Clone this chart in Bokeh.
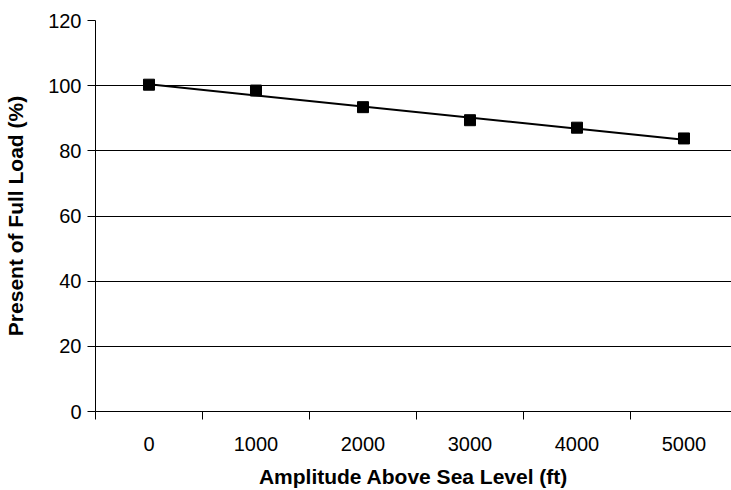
from bokeh.plotting import figure
from bokeh.models import Range1d, FixedTicker
from bokeh.embed import file_html
from bokeh.resources import INLINE

# Data
altitudes = ["0", "1000", "2000", "3000", "4000", "5000"]
percent_full_load = [100.3, 98.5, 93.4, 89.4, 87.1, 83.8]
trend_categories = ["0", "5000"]
trend_values = [100.4, 83.4]
y_ticks = [0, 20, 40, 60, 80, 100, 120]

xs = list(range(len(altitudes)))
trend_x = [altitudes.index(c) for c in trend_categories]

p = figure(width=731, height=490, output_backend="svg", toolbar_location=None,
           x_range=Range1d(-0.5, 5.444), y_range=Range1d(0, 120),
           min_border_left=95, min_border_right=0, min_border_top=20,
           min_border_bottom=78)
p.outline_line_color = None
p.background_fill_color = "white"
p.border_fill_color = "white"

p.line(trend_x, trend_values, line_color="black", line_width=2)
p.scatter(xs, percent_full_load, marker="square", size=11,
          fill_color="black", line_color="black")

# x axis: labels at category centres, tick marks between categories
p.xaxis.ticker = FixedTicker(ticks=xs, minor_ticks=[i - 0.5 for i in range(len(altitudes) + 1)])
p.xaxis.major_label_overrides = {i: a for i, a in enumerate(altitudes)}
p.xaxis.major_tick_out = 0
p.xaxis.major_tick_in = 0
p.xaxis.minor_tick_out = 8
p.xaxis.minor_tick_in = 0
p.xaxis.minor_tick_line_color = "black"
p.xaxis.axis_line_color = "black"
p.xaxis.major_label_standoff = 17
p.xaxis.axis_label = "Amplitude Above Sea Level (ft)"
p.xaxis.axis_label_standoff = 11

p.yaxis.ticker = FixedTicker(ticks=y_ticks)
p.yaxis.major_tick_out = 8
p.yaxis.major_tick_in = 0
p.yaxis.minor_tick_line_color = None
p.yaxis.axis_line_color = "black"
p.yaxis.major_tick_line_color = "black"
p.yaxis.major_label_standoff = 6
p.yaxis.axis_label = "Present of Full Load (%)"
p.yaxis.axis_label_standoff = 18

for ax in (p.xaxis, p.yaxis):
    ax.major_label_text_font = "Liberation Sans"
    ax.major_label_text_font_size = "20px"
    ax.major_label_text_color = "black"
    ax.axis_label_text_font = "Liberation Sans"
    ax.axis_label_text_font_size = "21px"
    ax.axis_label_text_font_style = "bold"
    ax.axis_label_text_color = "black"

p.xgrid.grid_line_color = None
p.ygrid.ticker = FixedTicker(ticks=y_ticks)
p.ygrid.grid_line_color = "black"
p.ygrid.grid_line_width = 1
p.ygrid.grid_line_alpha = 1.0

open("out.html", "w").write(file_html(p, INLINE))
